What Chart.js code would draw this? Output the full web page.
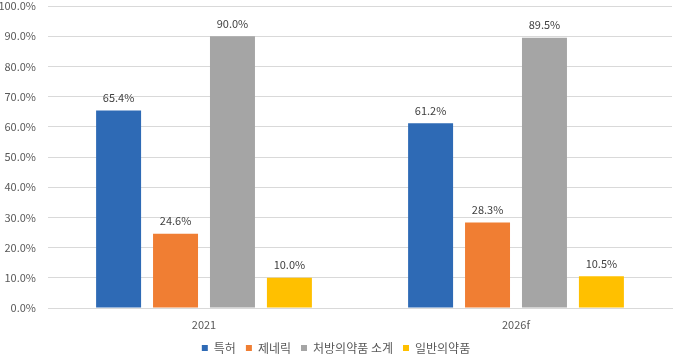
<!DOCTYPE html>
<html><head><meta charset="utf-8">
<script src="https://cdn.jsdelivr.net/npm/chart.js@4"></script>
<style>html,body{margin:0;padding:0;background:#fff}#wrap{width:680px;height:360px}</style>
</head><body><div id="wrap"><canvas id="c" width="680" height="360"></canvas></div>
<script>
const categories = ['2021', '2026f'];
const seriesNames = ['특허', '제네릭', '처방의약품 소계', '일반의약품'];
const patent = [65.4, 61.2];
const generic = [24.6, 28.3];
const rxTotal = [90.0, 89.5];
const otc = [10.0, 10.5];
const colors = ['#2E6AB5', '#F07E33', '#A5A5A5', '#FFC000'];
const FONT = "'Noto Sans CJK KR', 'Noto Sans', sans-serif";

const labelPlugin = {
  id: 'valueLabels',
  afterDatasetsDraw(chart) {
    const ctx = chart.ctx;
    ctx.save();
    ctx.font = '11px ' + FONT;
    ctx.fillStyle = '#404040';
    ctx.textAlign = 'center';
    ctx.textBaseline = 'bottom';
    chart.data.datasets.forEach((ds, i) => {
      chart.getDatasetMeta(i).data.forEach((bar, j) => {
        ctx.fillText(ds.data[j].toFixed(1) + '%', bar.x, bar.y - 7);
      });
    });
    ctx.restore();
  }
};

const legendHeightPlugin = {
  id: 'legendHeight',
  beforeLayout(chart) {
    const lg = chart.legend;
    if (lg && !lg._patched) {
      const orig = lg.fit;
      lg.fit = function () { orig.call(this); this.height = 28; };
      lg._patched = true;
    }
  }
};

new Chart(document.getElementById('c'), {
  type: 'bar',
  data: {
    labels: categories,
    datasets: [patent, generic, rxTotal, otc].map((d, i) => ({
      label: seriesNames[i], data: d, backgroundColor: colors[i],
      barPercentage: 0.79, categoryPercentage: 0.73
    }))
  },
  options: {
    responsive: false, animation: false,
    layout: { padding: { left: 0, right: 8, top: 6, bottom: 0 } },
    plugins: {
      tooltip: { enabled: false },
      legend: {
        position: 'bottom',
        labels: { boxWidth: 6, boxHeight: 6, color: '#595959', font: { family: FONT, size: 12 }, padding: 10 }
      }
    },
    scales: {
      x: {
        afterFit(s) { s.height = 24; },
        grid: { display: false, drawTicks: false },
        border: { color: '#D9D9D9' },
        ticks: { color: '#595959', font: { family: FONT, size: 11 }, padding: 10 }
      },
      y: {
        min: 0, max: 100,
        afterFit(s) { s.width = 48; s.paddingTop = 0; s.paddingBottom = 0; },
        grid: { color: '#D9D9D9', drawTicks: false },
        border: { display: false },
        ticks: { stepSize: 10, color: '#595959', padding: 12, font: { family: FONT, size: 11 },
          callback: v => v.toFixed(1) + '%' }
      }
    }
  },
  plugins: [labelPlugin, legendHeightPlugin]
});
</script></body></html>
